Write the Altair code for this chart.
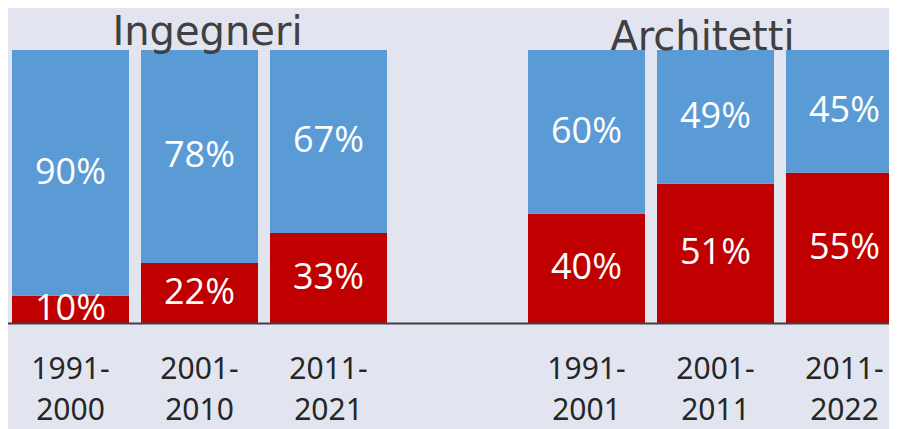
import altair as alt
import pandas as pd

periods = ["1991-|2000", "2001-|2010", "2011-|2021", "1991-|2001", "2001-|2011", "2011-|2022"]
gap = " "
domain = periods[:3] + [gap] + periods[3:]
series = ["Donne", "Uomini"]
donne = [10, 22, 33, 40, 51, 55]
uomini = [90, 78, 67, 60, 49, 45]
group_titles = ["Ingegneri", "Architetti"]
title_anchor = ["2001-|2010", "2001-|2011"]

rows = []
for p, d, u in zip(periods, donne, uomini):
    rows.append({"period": p, "series": "Donne", "order": 0, "value": d})
    rows.append({"period": p, "series": "Uomini", "order": 1, "value": u})
df = pd.DataFrame(rows)

xscale = alt.Scale(domain=domain, range=[-2, 901], paddingInner=0.093, paddingOuter=0.0465)
x = alt.X("period:N", scale=xscale,
          axis=alt.Axis(title=None, labelExpr="split(datum.label, '|')", ticks=False,
                        domainColor="#404040", domainWidth=2, labelFont="Noto Sans",
                        labelFontSize=30, labelColor="#262626", labelLineHeight=41,
                        labelPadding=31, labelBaseline="top", labelAngle=0, zindex=1,
                        labelOverlap=False))
yscale = alt.Scale(domain=[0, 100], nice=False, zero=True)

base = alt.Chart(df).transform_stack(
    stack="value", groupby=["period"], as_=["y0", "y1"],
    sort=[alt.SortField("order", order="ascending")]
).transform_calculate(mid="(datum.y0 + datum.y1) / 2", label="datum.value + '%'")

bars = base.mark_bar().encode(
    x=x,
    y=alt.Y("y0:Q", scale=yscale, axis=None),
    y2="y1:Q",
    color=alt.Color("series:N", scale=alt.Scale(domain=series, range=["#c00000", "#5b9bd5"]), legend=None),
)

texts = base.mark_text(color="white", font="Open Sans", fontSize=36, baseline="middle").encode(
    x=alt.X("period:N", scale=xscale),
    y=alt.Y("mid:Q", scale=yscale),
    text="label:N",
)

tdf1 = pd.DataFrame({"period": [title_anchor[0]], "name": [group_titles[0]], "y": [100]})
tdf2 = pd.DataFrame({"period": [title_anchor[1]], "name": [group_titles[1]], "y": [100]})
t1 = alt.Chart(tdf1).mark_text(font="DejaVu Sans", fontSize=40, color="#404040",
                               baseline="alphabetic", dx=8, dy=-5).encode(
    x=alt.X("period:N", scale=xscale), y=alt.Y("y:Q", scale=yscale), text="name:N")
t2 = alt.Chart(tdf2).mark_text(font="DejaVu Sans", fontSize=40, color="#404040",
                               baseline="alphabetic", dx=-13, dy=0).encode(
    x=alt.X("period:N", scale=xscale), y=alt.Y("y:Q", scale=yscale), text="name:N")

chart = alt.layer(bars, texts, t1, t2).properties(
    width=881, height=273,
    autosize=alt.AutoSizeParams(type="none"),
    padding={"left": 0, "top": 42, "right": 0, "bottom": 106},
    background="#e2e5f0",
).configure_view(stroke=None)

chart.save("out.html", embed_options={"renderer": "svg", "actions": False})
